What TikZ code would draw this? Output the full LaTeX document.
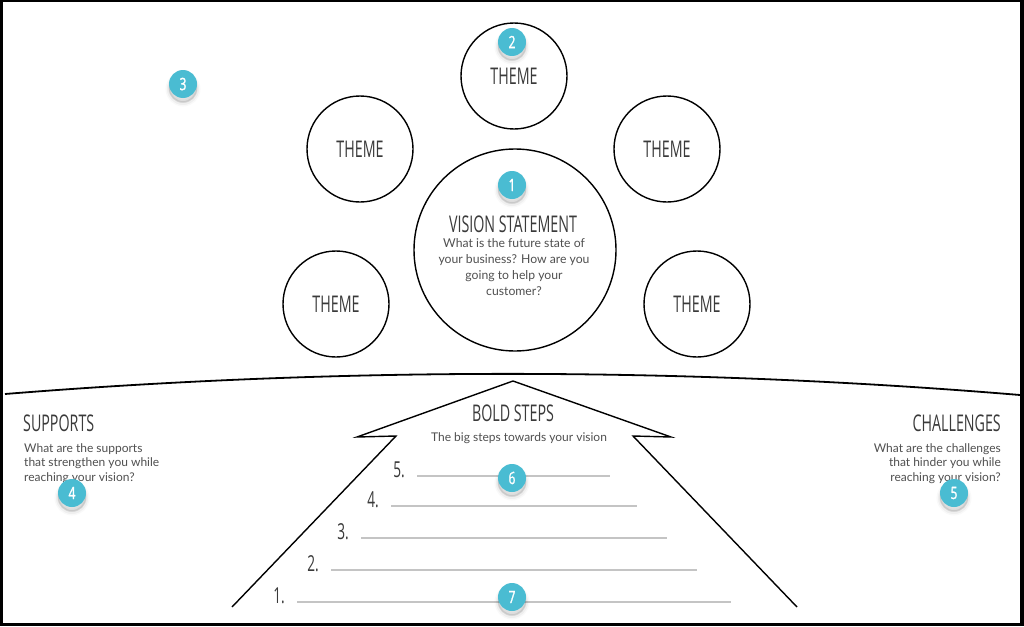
\documentclass[tikz,border=0pt]{standalone}
\usepackage{fontspec}
\newfontfamily\condfont[FakeStretch=0.62]{Open Sans}
\newfontfamily\badgefont[FakeStretch=0.7,FakeBold=1.5]{Open Sans}
\newfontfamily\bodyfont{Lato}
\definecolor{badgeblue}{HTML}{4ABCD2}
\definecolor{inkgray}{HTML}{3A3A3A}
\definecolor{bodygray}{HTML}{505050}
\definecolor{linegray}{HTML}{C4C4C4}
\begin{document}
\begin{tikzpicture}[x=1pt,y=-1pt,
  head/.style={font=\condfont\fontsize{23}{23}\selectfont, text=inkgray, inner sep=0pt},
  num/.style={font=\condfont\fontsize{22}{22}\selectfont, text=inkgray, inner sep=0pt, anchor=base east},
  body/.style={font=\bodyfont\fontsize{12}{14.5}\selectfont, text=bodygray, inner sep=0pt},
  theme/.style={circle, draw, line width=1.4pt, minimum size=106pt, inner sep=0pt, font=\condfont\fontsize{23}{23}\selectfont, text=inkgray},
  badge/.style={circle, fill=badgeblue, minimum size=28pt, inner sep=0pt, text=white,
    font=\badgefont\fontsize{17}{17}\selectfont,
    preaction={draw=black, fill=black, line width=7pt, opacity=0.025, transform canvas={yshift=-5pt}},
    preaction={draw=black, fill=black, line width=4pt, opacity=0.04, transform canvas={yshift=-5pt}},
    preaction={draw=black, fill=black, line width=1.5pt, opacity=0.05, transform canvas={yshift=-4pt}}},
  stepline/.style={draw=linegray, line width=1.1pt},
  outline/.style={line width=1.4pt, line join=miter}]
\useasboundingbox (0,0) rectangle (1024,626);
% frame
\fill[black] (0,0) rectangle (1024,626);
\fill[white] (3,2) rectangle (1020,623);

% horizon
\coordinate (hl) at (5,394);
\coordinate (hr) at (1020,395);
\draw[line width=1.8pt] (hl) .. controls (340,367) and (685,367) .. (hr);

% circles
\node[circle, draw, line width=1.4pt, minimum size=202pt, inner sep=0pt] (vision) at (515,250) {};
\node[theme] (t1) at (514,76) {THEME};
\node[theme] (t2) at (360,149) {THEME};
\node[theme] (t3) at (667,149) {THEME};
\node[theme] (t4) at (336,304) {THEME};
\node[theme] (t5) at (697,304) {THEME};

\node[head, anchor=base] (vtitle) at (513,232) {VISION STATEMENT};
\node[body, anchor=north, align=center, font=\bodyfont\fontsize{12.2}{16}\selectfont] (vbody) at (514,238) {What is the future state of\\your business? How are you\\going to help your\\customer?};

% supports / challenges
\node[head, anchor=base west] (sup) at (23,431) {SUPPORTS};
\node[body, anchor=north west, align=left] (supb) at (24,443) {What are the supports\\that strengthen you while\\reaching your vision?};
\node[head, anchor=base east] (cha) at (1001,431) {CHALLENGES};
\node[body, anchor=north east, align=right] (chab) at (1001,443) {What are the challenges\\that hinder you while\\reaching your vision?};

% arrow
\coordinate (al) at (232,607);
\coordinate (an) at (396,436);
\coordinate (at) at (357,437);
\coordinate (ap) at (513,381);
\coordinate (bt) at (671,437);
\coordinate (bn) at (633,436);
\coordinate (ar) at (797,607);
\draw[outline] (al) -- (an) -- (at) -- (ap) -- (bt) -- (bn) -- (ar);

\node[head, anchor=base] (bold) at (513,421) {BOLD STEPS};
\node[body, anchor=base] (boldsub) at (519,441) {The big steps towards your vision};

% steps
\draw[stepline] (417,476) coordinate (s5) -- (610,476);
\draw[stepline] (391,506) coordinate (s4) -- (637,506);
\draw[stepline] (361,538) coordinate (s3) -- (667,538);
\draw[stepline] (331,570) coordinate (s2) -- (697,570);
\draw[stepline] (297,602) coordinate (s1) -- (731,602);
\node[num] (n5) at ([xshift=-12pt,yshift=-1pt]s5) {5.};
\node[num] (n4) at ([xshift=-12pt,yshift=-1pt]s4) {4.};
\node[num] (n3) at ([xshift=-12pt,yshift=-1pt]s3) {3.};
\node[num] (n2) at ([xshift=-12pt,yshift=-1pt]s2) {2.};
\node[num] (n1) at ([xshift=-12pt,yshift=-1pt]s1) {1.};

% badges
\node[badge] (b1) at (512,185) {1};
\node[badge] (b2) at (512,42) {2};
\node[badge] (b3) at (183,84) {3};
\node[badge] (b4) at (72,493) {4};
\node[badge] (b5) at (954,493) {5};
\node[badge] (b6) at (512,478) {6};
\node[badge] (b7) at (512,597) {7};
\end{tikzpicture}
\end{document}
